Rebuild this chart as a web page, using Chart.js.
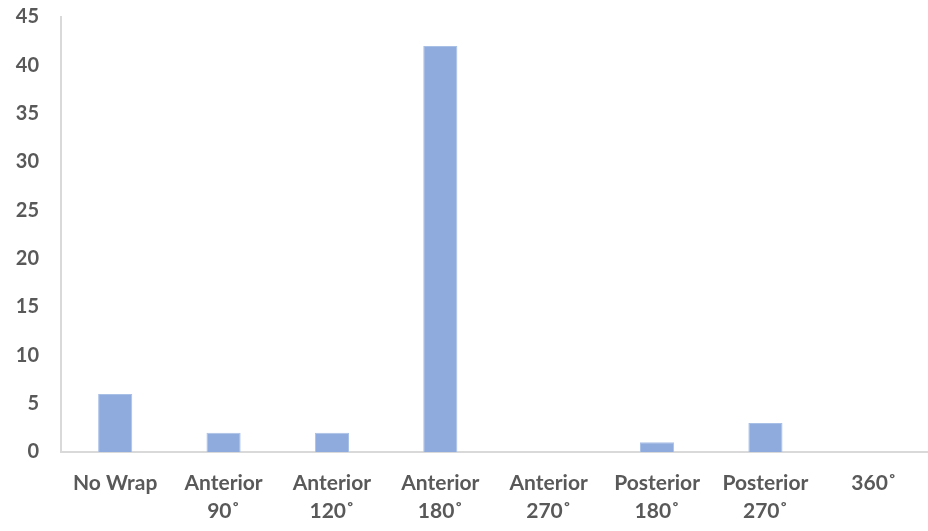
<!DOCTYPE html>
<html>
<head>
<meta charset="utf-8">
<script src="https://cdn.jsdelivr.net/npm/chart.js@4/dist/chart.umd.min.js"></script>
<style>
  html, body { margin: 0; padding: 0; background: #fff; }
  #wrap { width: 928px; height: 531px; }
</style>
</head>
<body>
<div id="wrap"><canvas id="c"></canvas></div>
<script>
// Wrap categories (two-line labels) and case counts
const categories = [
  "No Wrap",
  ["Anterior", "90˚"],
  ["Anterior", "120˚"],
  ["Anterior", "180˚"],
  ["Anterior", "270˚"],
  ["Posterior", "180˚"],
  ["Posterior", "270˚"],
  "360˚"
];
const counts = [6, 2, 2, 42, 0, 1, 3, 0];
const yMin = 0, yMax = 45, yStep = 5;

const xFont = { family: "Lato, 'Open Sans', sans-serif", size: 21, weight: "bold", lineHeight: 1.33 };
const yFont = { family: "Lato, 'Open Sans', sans-serif", size: 20, weight: "bold" };

new Chart(document.getElementById("c"), {
  type: "bar",
  data: {
    labels: categories,
    datasets: [{
      data: counts,
      backgroundColor: "#8FAADC",
      borderColor: "#A9C0E6",
      borderWidth: 1,
      categoryPercentage: 1,
      barPercentage: 0.315
    }]
  },
  options: {
    responsive: true,
    maintainAspectRatio: false,
    animation: false,
    layout: { padding: { top: 17, right: 0, bottom: 0, left: 0 } },
    plugins: { legend: { display: false }, tooltip: { enabled: false } },
    scales: {
      x: {
        grid: { display: false, drawTicks: false },
        border: { display: true, color: "#D9D9D9", width: 2 },
        ticks: { color: "#595959", font: xFont, padding: 17, maxRotation: 0, autoSkip: false },
        afterFit(s) { s.height = 79; s.paddingLeft = 0; s.paddingRight = 0; }
      },
      y: {
        min: yMin, max: yMax,
        grid: { display: false, drawTicks: false },
        border: { display: true, color: "#D9D9D9", width: 2 },
        ticks: { stepSize: yStep, color: "#595959", font: yFont, padding: 22 },
        afterFit(s) { s.width = 61; s.paddingTop = 0; s.paddingBottom = 0; }
      }
    }
  }
});
</script>
</body>
</html>
